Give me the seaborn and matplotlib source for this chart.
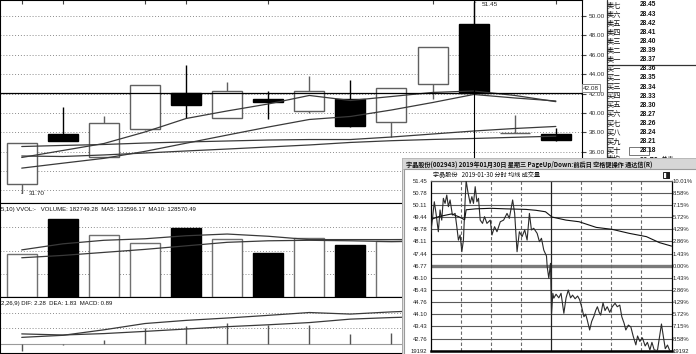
import numpy as np
import pandas as pd
import matplotlib
matplotlib.use("Agg")
import matplotlib.pyplot as plt
import seaborn as sns
from matplotlib.patches import Rectangle

# 日K线 (14 个交易日)
opens  = [32.66, 37.79, 35.42, 38.31, 42.02, 39.44, 41.47, 40.20, 41.43, 39.09, 42.98, 49.14, 37.92, 37.82]
highs  = [36.93, 40.64, 39.68, 42.88, 44.94, 43.16, 42.29, 43.81, 43.40, 42.54, 46.77, 51.45, 39.78, 38.45]
lows   = [31.70, 37.10, 35.42, 38.20, 39.51, 39.44, 39.40, 39.95, 38.51, 37.55, 41.40, 42.09, 37.92, 37.15]
closes = [36.93, 37.10, 38.93, 42.88, 40.78, 42.23, 41.12, 42.26, 38.65, 42.54, 46.77, 42.09, 37.96, 37.20]

ma5  = [35.40, 36.12, 36.84, 38.03, 39.42, 40.20, 40.92, 41.80, 41.28, 41.69, 42.11, 42.26, 41.80, 41.16]
ma10 = [34.30, 34.81, 35.31, 36.03, 36.87, 37.71, 38.54, 39.32, 39.63, 40.30, 41.07, 41.90, 41.54, 41.23]
ma20 = [36.53, 36.64, 36.74, 36.89, 37.00, 37.10, 37.20, 37.25, 37.25, 37.51, 37.82, 38.13, 38.39, 38.60]
ma60 = [35.55, 35.50, 35.66, 35.86, 36.07, 36.27, 36.48, 36.69, 36.95, 37.13, 37.26, 37.36, 37.48, 37.60]

volume   = [93090, 167200, 133000, 117100, 147600, 125800, 94400, 128000, 112700, 119900, 124700, 182749.28, 150000, 100000]
vol_ma5  = [101370, 114450, 122080, 125350, 131890, 135600, 130800, 123600, 123600, 123600, 124000, 133596.17, 140000, 135000]
vol_ma10 = [84370, 89380, 95920, 102460, 110090, 117720, 120990, 122080, 120990, 119250, 121000, 128570.49, 130000, 128000]

dif  = [0.42, 0.55, 0.90, 1.30, 1.50, 1.65, 1.82, 2.00, 1.90, 2.04, 2.14, 2.28, 2.02, 1.74]
dea  = [0.64, 0.57, 0.66, 0.80, 0.95, 1.10, 1.22, 1.36, 1.58, 1.68, 1.75, 1.83, 1.87, 1.84]
macd = [-0.45, -0.06, 0.26, 1.00, 1.15, 1.32, 1.21, 1.21, 0.64, 0.72, 0.78, 0.89, 0.30, -0.20]

top_marks = [0, 1, 3, 4, 6, 10, 13]
grid_levels = [30, 32, 34, 36, 38, 40, 42, 44, 46, 48, 50]
price_ticks = [36, 38, 40, 42, 44, 46, 48, 50]

# 十档盘口
book_labels = ["卖七", "卖六", "卖五", "卖四", "卖三", "卖二", "卖一",
               "买一", "买二", "买三", "买四", "买五", "买六", "买七", "买八", "买九", "买十"]
book_prices = ["28.45", "28.43", "28.42", "28.41", "28.40", "28.39", "28.37",
               "28.36", "28.35", "28.34", "28.33", "28.30", "28.27", "28.26", "28.24", "28.21", "28.18"]

# 分时 (2019-01-30), 分钟 0-240
tick_min = [0, 1.8, 3.8, 5.5, 7.8, 9.5, 11.2, 12.8, 14.5, 16.2, 17.8, 19.5, 21.8, 24.5, 26.2, 27.8,
            29.5, 31.2, 32.8, 34.5, 35.5, 37.2, 39.5, 41.2, 42.8, 44.5, 46.2, 47.8, 49.5, 51.8,
            53.8, 56.2, 59.5, 61.2, 63.8, 66.2, 69.5, 72.8, 76.2, 78.5, 81.8, 83.8, 86.2, 88.5,
            91.2, 93.8, 96.2, 98.5, 100.5, 102.8, 106.2, 108.5, 110.5, 112.8, 115.5, 116.2, 117.8,
            119.5, 120.5, 121.8, 122.8, 125, 127.8, 130, 132.8, 135, 137.2, 139.5, 141.5, 144,
            146.5, 148.5, 150.5, 152.8, 154.5, 156, 158.5, 160.5, 162.8, 164.5, 166.2, 168, 169.5,
            171.8, 173.8, 176, 178.5, 181, 183.8, 186, 188.5, 190.5, 192.8, 194.5, 197, 199.5,
            201.8, 204.5, 206.2, 208.5, 211, 213.8, 216, 218.5, 220.5, 222.8, 226, 228.2, 230,
            231.8, 233.8, 236, 238.2, 240]
tick_price = [48.45, 49.28, 50.29, 49.65, 48.64, 49.84, 49.28, 50.48, 50.20, 50.66, 50.02, 50.39, 49.56,
              49.65, 48.92, 48.18, 48.46, 47.54, 48.18, 50.39, 51.45, 50.84, 50.20, 50.57, 50.20, 51.12,
              50.29, 50.48, 49.28, 49.10, 49.47, 49.10, 49.28, 48.46, 48.92, 48.64, 49.19, 49.28, 49.65,
              49.38, 50.39, 49.65, 47.54, 48.64, 48.37, 48.74, 48.18, 49.65, 48.74, 48.83, 48.55, 48.09,
              48.28, 47.63, 47.30, 46.72, 46.08, 46.90, 44.10, 45.25, 44.98, 45.20, 45.00, 45.25, 44.15,
              45.00, 45.43, 45.00, 45.15, 44.95, 45.10, 44.90, 44.51, 43.96, 44.10, 43.80, 43.23, 43.70,
              44.00, 44.30, 44.51, 44.20, 44.05, 44.73, 44.30, 44.51, 44.20, 44.51, 44.70, 44.51, 44.60,
              43.96, 43.60, 43.23, 43.50, 43.40, 42.90, 42.41, 42.90, 42.60, 42.80, 42.35, 42.55, 42.13,
              42.55, 42.13, 42.10, 42.90, 43.56, 42.90, 42.20, 42.40, 42.10, 42.09]
avg_min   = [0, 8, 21, 28, 34, 35.5, 45, 60, 75, 95, 105, 114.5, 121, 135, 148, 165, 181, 198, 215, 228, 240]
avg_price = [49.30, 49.47, 49.62, 49.47, 49.30, 49.85, 49.90, 49.93, 49.90, 49.87, 49.82, 49.74, 49.45,
             49.28, 49.19, 48.88, 48.77, 48.55, 48.37, 48.04, 47.85]

ts_levels = [51.45, 50.78, 50.11, 49.44, 48.78, 48.11, 47.44, 46.77, 46.10, 45.43, 44.76, 44.10, 43.43, 42.76, 42.09]
ts_left   = ["51.45", "50.78", "50.11", "49.44", "48.78", "48.11", "47.44", "46.77", "46.10", "45.43",
             "44.76", "44.10", "43.43", "42.76", "19192"]
ts_right  = ["10.01%", "8.58%", "7.15%", "5.72%", "4.29%", "2.86%", "1.43%", "0.00%", "1.43%", "2.86%",
             "4.29%", "5.72%", "7.15%", "8.58%", "19192"]

W, H = 696, 354
sns.set_theme(style="white")
plt.rcParams["font.family"] = ["Liberation Sans", "Noto Sans CJK SC", "DejaVu Sans"]
plt.rcParams["axes.linewidth"] = 0.8

fig = plt.figure(figsize=(W / 100, H / 100), dpi=100)


def box(x0, y0, x1, y1, z=0):
    a = fig.add_axes([x0 / W, 1 - y1 / H, (x1 - x0) / W, (y1 - y0) / H])
    a.set_zorder(z)
    return a


idx = np.arange(len(closes))
XL = (-0.529, 13.63)
BW = 0.73
up = [c >= o for o, c in zip(opens, closes)]

# ---- K线主图 ----
ax = box(0, 0, 581.7, 203.3)
ax.set_xlim(*XL)
ax.set_ylim(30.67, 51.65)
for v in grid_levels:
    ax.axhline(v, color="#8c8c8c", lw=0.7, ls=(0, (1, 2)), zorder=1)
for i in idx:
    col = "#606060" if up[i] else "black"
    ax.vlines(i, lows[i], highs[i], color=col, lw=1, zorder=2)
    lo, hi = sorted((opens[i], closes[i]))
    ax.bar(i, max(hi - lo, 0.03), bottom=lo, width=BW, color="white" if up[i] else "black",
           edgecolor=col, lw=1, zorder=3)
for ma in (ma5, ma10, ma20, ma60):
    sns.lineplot(x=idx, y=ma, ax=ax, color="#3a3a3a", lw=0.9, zorder=4)
ax.axvline(11, color="black", lw=0.8, zorder=5)
ax.axhline(42.08, color="black", lw=0.9, zorder=5)
ax.annotate("51.45", xy=(11.02, 51.45), xytext=(11.2, 51.2), fontsize=4.6, color="#222", va="center",
            arrowprops=dict(arrowstyle="-", color="#333", lw=0.6))
ax.annotate("31.70", xy=(0, 31.70), xytext=(0.17, 31.72), fontsize=4.6, color="#222", va="center",
            arrowprops=dict(arrowstyle="-", color="#333", lw=0.6))
ax.text(1.002, 42.54, "42.08", transform=ax.get_yaxis_transform(), fontsize=4.6, va="center", ha="left",
        bbox=dict(boxstyle="square,pad=0.2", fc="white", ec="#888", lw=0.7), zorder=6)
ax.set_xticks(top_marks)
ax.xaxis.tick_top()
ax.tick_params(axis="x", direction="in", length=3, width=0.8, color="#444", labeltop=False, top=True, bottom=False)
ax.yaxis.tick_right()
ax.set_yticks(price_ticks)
ax.set_yticklabels([f"{v:.2f}" for v in price_ticks])
ax.tick_params(axis="y", direction="out", length=3, width=0.8, color="#444", labelsize=4.6,
               labelcolor="#333", pad=2, right=True, left=False)
ax.set_xlabel("")
ax.set_ylabel("")
for s in ax.spines.values():
    s.set_color("black")

# ---- 成交量 ----
axv = box(0, 203.3, 581.7, 296.8)
axv.set_xlim(*XL)
axv.set_ylim(0, 202000)
for v in (50000, 100000, 150000):
    axv.axhline(v, color="#8c8c8c", lw=0.7, ls=(0, (1, 2)), zorder=1)
for i in idx:
    col = "#707070" if up[i] else "black"
    axv.bar(i, volume[i], width=BW, color="white" if up[i] else "black", edgecolor=col, lw=1, zorder=3)
sns.lineplot(x=idx, y=vol_ma5, ax=axv, color="#3a3a3a", lw=0.9, zorder=4)
sns.lineplot(x=idx, y=vol_ma10, ax=axv, color="#3a3a3a", lw=0.9, zorder=4)
axv.text(0.002, 0.965, f"5,10) VVOL:-   VOLUME: {volume[11]:.2f}  MA5: {vol_ma5[11]:.2f}  MA10: {vol_ma10[11]:.2f}",
         transform=axv.transAxes, fontsize=4.3, va="top", ha="left", color="#111")
axv.set_xticks([])
axv.set_yticks([])
axv.set_xlabel("")
axv.set_ylabel("")
for s in axv.spines.values():
    s.set_color("black")

# ---- MACD ----
axm = box(0, 296.8, 581.7, 353)
axm.set_xlim(*XL)
axm.set_ylim(-0.575, 3.0)
for v in (1, 2):
    axm.axhline(v, color="#8c8c8c", lw=0.7, ls=(0, (1, 2)), zorder=1)
axm.axhline(0, color="#9a9a9a", lw=0.8, zorder=1)
axm.vlines(idx, 0, macd, color="#555", lw=1, zorder=2)
sns.lineplot(x=idx, y=dif, ax=axm, color="#3a3a3a", lw=0.9, zorder=3)
sns.lineplot(x=idx, y=dea, ax=axm, color="#3a3a3a", lw=0.9, zorder=3)
axm.text(0.002, 0.93, f"2,26,9) DIF: {dif[11]:.2f}  DEA: {dea[11]:.2f}  MACD: {macd[11]:.2f}",
         transform=axm.transAxes, fontsize=4.3, va="top", ha="left", color="#111")
axm.set_xticks([])
axm.set_yticks([])
axm.set_xlabel("")
axm.set_ylabel("")
for s in axm.spines.values():
    s.set_color("black")

# ---- 盘口 ----
axo = box(604, 0, 696, 158, z=1)
axo.set_xlim(604, 696)
axo.set_ylim(158, 0)
axo.set_axis_off()
axo.plot([606.5, 606.5], [0, 158], color="#333", lw=0.9)
axo.plot([606.5, 696], [65, 65], color="#333", lw=0.9)
for k, (lab, pr) in enumerate(zip(book_labels, book_prices)):
    y = 5 + 9.12 * k
    axo.text(607, y, lab, fontsize=5.2, va="center", ha="left", color="#111", family=["Noto Sans CJK SC"])
    axo.text(639.5, y, pr, fontsize=4.7, va="center", ha="left", color="#111", weight="bold")
axo.add_patch(Rectangle((628.5, 146.8), 20.5, 8.5, fill=False, ec="#777", lw=0.7))
for x, s in ((607, "卖均"), (639.5, "28.70"), (661, "总卖")):
    axo.text(x, 159.5, s, fontsize=5.0, va="center", ha="left", color="#111", clip_on=True,
             family=["Noto Sans CJK SC"], weight="bold" if s[0].isdigit() else "normal")

# ---- 分时弹窗 ----
axp = box(401.7, 158, 697, 356, z=10)
axp.set_xlim(401.7, 697)
axp.set_ylim(356, 158)
axp.set_axis_off()
axp.add_patch(Rectangle((401.7, 158), 296, 198, fc="#e6e6e6", ec="#a8a8a8", lw=0.8))
axp.add_patch(Rectangle((401.7, 158), 296, 11.5, fc="#d6d6d6", ec="#b8b8b8", lw=0.6))
axp.text(406.5, 163.8, "宇晶股份(002943) 2019年01月30日 星期三 PageUp/Down:前后日 空格键操作 通达信(R)",
         fontsize=4.45, weight="bold", va="center", ha="left", color="#111",
         family=["Noto Sans CJK SC", "DejaVu Sans"])
axp.add_patch(Rectangle((404, 169.5), 294, 188, fc="white", ec="#9a9a9a", lw=0.8))
axp.text(433, 175, "宇晶股份   2019-01-30 分时 均线 成交量", fontsize=4.4, va="center", ha="left",
         color="#111", family=["Noto Sans CJK SC", "DejaVu Sans"])
axp.add_patch(Rectangle((663, 172), 6, 6, fc="white", ec="#222", lw=0.7))
axp.add_patch(Rectangle((666, 172), 3, 6, fc="#222", ec="#222", lw=0.5))

axi = box(430.5, 180.7, 671.5, 350.7, z=11)
axi.set_xlim(0, 240)
axi.set_ylim(42.09, 51.45)
for v in ts_levels:
    if abs(v - 46.77) < 1e-6:
        axi.axhline(v, color="#7a7a7a", lw=2.4, zorder=1)
    else:
        axi.axhline(v, color="#5a5a5a", lw=0.8, zorder=1)
for m in (30, 60, 90, 150, 180, 210):
    axi.axvline(m, color="#6a6a6a", lw=0.8, ls=(0, (3, 2)), zorder=1)
axi.axvline(120, color="#222", lw=0.9, zorder=1)
sns.lineplot(x=tick_min, y=tick_price, ax=axi, color="#2a2a2a", lw=0.8, zorder=3)
sns.lineplot(x=avg_min, y=avg_price, ax=axi, color="#111", lw=0.8, zorder=3)
axi.set_xticks([])
axi.set_yticks(ts_levels)
axi.set_yticklabels(ts_left)
axi.tick_params(axis="y", length=0, pad=2.2, labelsize=4.2, labelcolor="#222", left=True)
axi.set_xlabel("")
axi.set_ylabel("")
for s in axi.spines.values():
    s.set_color("black")
    s.set_linewidth(0.9)
axi.spines["bottom"].set_linewidth(1.8)
axi.spines["top"].set_color("#5a5a5a")

axr = axi.twinx()
axr.set_zorder(12)
axr.patch.set_visible(False)
axr.set_ylim(42.09, 51.45)
axr.set_yticks(ts_levels)
axr.set_yticklabels(ts_right)
axr.tick_params(axis="y", length=0, pad=1, labelsize=4.2, labelcolor="#222", right=True)
axr.grid(False)
for s in axr.spines.values():
    s.set_visible(False)

fig.savefig("out.png", dpi=100)
